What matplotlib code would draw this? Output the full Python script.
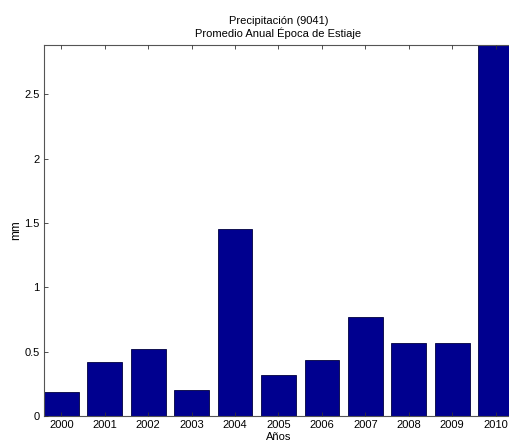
import matplotlib
matplotlib.use('Agg')
import matplotlib.pyplot as plt

# values (mm)
years = [2000, 2001, 2002, 2003, 2004, 2005, 2006, 2007, 2008, 2009, 2010]
precip = [0.19, 0.42, 0.52, 0.20, 1.455, 0.317, 0.433, 0.772, 0.565, 0.57, 3.2]
yticks = [0, 0.5, 1, 1.5, 2, 2.5]
ytick_labels = ['0', '0.5', '1', '1.5', '2', '2.5']

plt.rcParams['font.family'] = ['Liberation Sans', 'DejaVu Sans']
plt.rcParams['font.size'] = 8

fig = plt.figure(figsize=(5.09, 4.41), dpi=100)
ax = fig.add_axes([0.0864, 0.0567, 0.9215, 0.8413])

ax.bar(years, precip, width=0.8, color='#00008f', edgecolor='#000040', linewidth=0.6)
ax.set_xlim(1999.6, 2010.4)
ax.set_ylim(0, 2.885)
ax.set_xticks(years)
ax.set_yticks(yticks)
ax.set_yticklabels(ytick_labels)
ax.tick_params(direction='in', length=3, top=True, right=True, width=0.6,
               colors='#333333', labelcolor='black', pad=3)
for s in ax.spines.values():
    s.set_color('#555555')
    s.set_linewidth(0.8)
ax.set_axisbelow(False)

ax.set_title('Precipitación (9041)\nPromedio Anual Época de Estiaje', fontsize=8, pad=6,
             linespacing=1.15)
ax.set_xlabel('Años', labelpad=1)
ax.set_ylabel('mm', labelpad=2, fontsize=8.5)

fig.savefig('out.png', dpi=100)
